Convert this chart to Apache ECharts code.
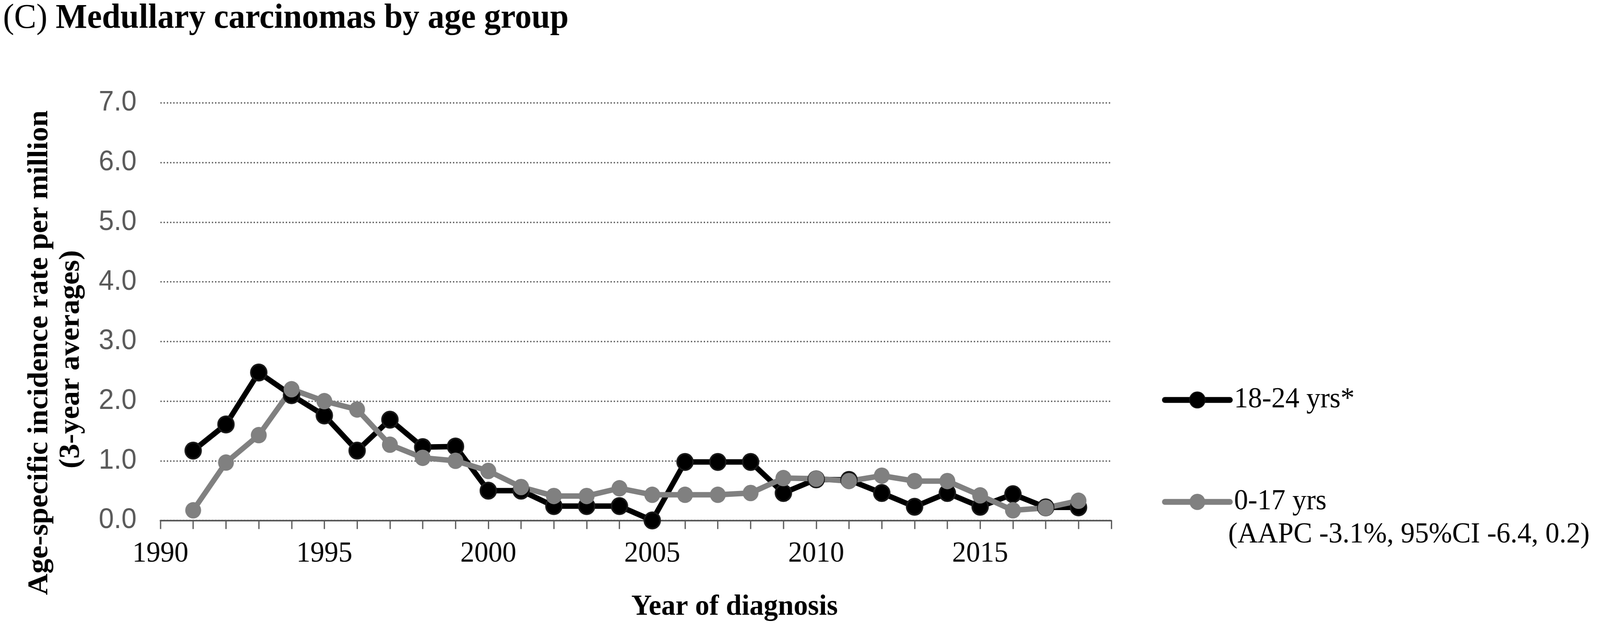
<!DOCTYPE html>
<html>
<head>
<meta charset="utf-8">
<script src="https://cdn.jsdelivr.net/npm/echarts@6/dist/echarts.min.js"></script>
<style>
  html, body { margin: 0; padding: 0; background: #ffffff; overflow: hidden; }
  #chart { width: 4230px; height: 1613px; transform-origin: 0 0; }
</style>
</head>
<body>
<div id="chart"></div>
<script>
// ---- Data ----
const years = [1991, 1992, 1993, 1994, 1995, 1996, 1997, 1998, 1999, 2000,
               2001, 2002, 2003, 2004, 2005, 2006, 2007, 2008, 2009, 2010,
               2011, 2012, 2013, 2014, 2015, 2016, 2017, 2018];
const rate18to24 = [1.17, 1.61, 2.48, 2.10, 1.76, 1.17, 1.69, 1.23, 1.24, 0.50,
                    0.50, 0.24, 0.24, 0.24, 0.00, 0.98, 0.98, 0.98, 0.46, 0.69,
                    0.68, 0.46, 0.23, 0.46, 0.23, 0.44, 0.22, 0.22];
const rate0to17 = [0.17, 0.97, 1.43, 2.20, 2.00, 1.86, 1.27, 1.05, 1.00, 0.83,
                   0.56, 0.41, 0.41, 0.54, 0.43, 0.43, 0.43, 0.46, 0.71, 0.70,
                   0.66, 0.75, 0.66, 0.66, 0.42, 0.17, 0.21, 0.33];
const seriesNames = ['18-24 yrs*', '0-17 yrs'];
const legendNote = '(AAPC -3.1%, 95%CI -6.4, 0.2)';
const titleLabel = '(C)';
const titleText = 'Medullary carcinomas by age group';
const yTitleLines = ['Age-specific incidence rate per million', '(3-year averages)'];
const xTitle = 'Year of diagnosis';
const xMin = 1990, xMax = 2019, xLabelStep = 5;
const yMin = 0, yMax = 7, yStep = 1;

const SERIF = '"Liberation Serif", "Times New Roman", serif';
const SANS = '"Liberation Sans", Arial, sans-serif';

// The design is laid out on a 4230x1613 canvas; fit it to the actual viewport.
const el = document.getElementById('chart');
const fitX = window.innerWidth / 4230, fitY = window.innerHeight / 1613;
el.style.transform = 'scale(' + fitX + ',' + fitY + ')';

const chart = echarts.init(el, null, { renderer: 'canvas', width: 4230, height: 1613 });
const toPairs = (vals) => years.map((y, i) => [y, vals[i]]);

const option = {
  animation: false,
  backgroundColor: '#ffffff',
  grid: { left: 424, right: 1292, top: 263.5, bottom: 280.5, containLabel: false },
  xAxis: {
    type: 'value',
    min: xMin, max: xMax, interval: 1,
    axisLine: { show: true, lineStyle: { color: '#595959', width: 4 } },
    axisTick: { show: true, length: 22, lineStyle: { color: '#595959', width: 3.3 } },
    axisLabel: {
      formatter: (v) => (v % xLabelStep === 0 ? String(v) : ''),
      fontFamily: SERIF, fontSize: 74, color: '#000000', margin: 49
    },
    splitLine: { show: false }
  },
  yAxis: {
    type: 'value',
    min: yMin, max: yMax, interval: yStep,
    axisLine: { show: false },
    axisTick: { show: false },
    axisLabel: {
      formatter: (v) => v.toFixed(1),
      fontFamily: SANS, fontSize: 72, color: '#595959', margin: 63
    },
    splitLine: { show: true, lineStyle: { type: [3.5, 5], width: 3.3, color: '#595959' } }
  },
  legend: {
    orient: 'vertical',
    left: 3067, top: 982,
    itemWidth: 172, itemHeight: 52, itemGap: 187,
    data: seriesNames,
    selectedMode: false,
    lineStyle: { width: 15, cap: 'round' },
    textStyle: { fontFamily: SERIF, fontSize: 74, color: '#000000', padding: [0, 0, 0, 6] }
  },
  series: [
    {
      name: seriesNames[0], type: 'line', data: toPairs(rate18to24),
      symbol: 'circle', symbolSize: 42,
      lineStyle: { color: '#000000', width: 14, cap: 'round', join: 'round' },
      itemStyle: { color: '#000000', borderColor: '#1a1a1a', borderWidth: 4 },
      emphasis: { disabled: true }
    },
    {
      name: seriesNames[1], type: 'line', data: toPairs(rate0to17),
      symbol: 'circle', symbolSize: 42,
      lineStyle: { color: '#808080', width: 14, cap: 'round', join: 'round' },
      itemStyle: { color: '#808080', borderColor: '#808080', borderWidth: 0 },
      emphasis: { disabled: true }
    }
  ],
  graphic: [
    {
      type: 'text', x: 8, y: 48,
      style: {
        text: '{r|' + titleLabel + '}{b| ' + titleText + '}',
        align: 'left', verticalAlign: 'middle',
        rich: {
          r: { fontFamily: SERIF, fontSize: 88, fontWeight: 'normal', fill: '#000' },
          b: { fontFamily: SERIF, fontSize: 88, fontWeight: 'bold', fill: '#000' }
        }
      }
    },
    {
      type: 'text', x: 105, y: 903, rotation: Math.PI / 2,
      style: {
        text: yTitleLines[0], align: 'center', verticalAlign: 'middle',
        font: 'bold 76px ' + SERIF, fill: '#000'
      }
    },
    {
      type: 'text', x: 188, y: 920, rotation: Math.PI / 2,
      style: {
        text: yTitleLines[1], align: 'center', verticalAlign: 'middle',
        font: 'bold 76px ' + SERIF, fill: '#000'
      }
    },
    {
      type: 'text', x: 1942, y: 1555,
      style: {
        text: xTitle, align: 'center', verticalAlign: 'middle',
        font: 'bold 75px ' + SERIF, fill: '#000'
      }
    },
    {
      type: 'text', x: 3247, y: 1370,
      style: {
        text: legendNote, align: 'left', verticalAlign: 'middle',
        font: '74px ' + SERIF, fill: '#000'
      }
    }
  ]
};

chart.setOption(option);
</script>
</body>
</html>
